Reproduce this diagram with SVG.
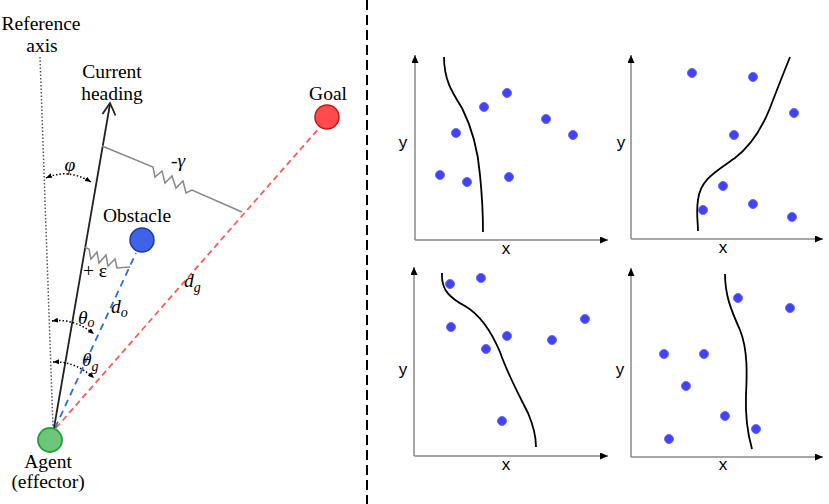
<svg xmlns="http://www.w3.org/2000/svg" width="829" height="504" viewBox="0 0 829 504">
<style>
.lbl{font-family:"Liberation Serif","Times New Roman",serif;font-size:19.5px;fill:#000}
.it{font-style:italic}
.ax{stroke:#888;stroke-width:1.5;fill:none}
.axl{font-family:"Liberation Sans",Arial,sans-serif;font-size:17px;fill:#000}
.curve{stroke:#000;stroke-width:1.8;fill:none}
.dot{fill:#4242fa;stroke:#6a6aff;stroke-width:1}
.dotted{stroke:#000;stroke-width:1.5;stroke-dasharray:1.5 2;fill:none}
.refax{stroke:#555;stroke-width:1.5;stroke-dasharray:1.5 2;fill:none}
.spring{stroke:#888;stroke-width:1.5;fill:none}
</style>
<defs>
<marker id="axArrow" viewBox="0 0 8 7" refX="8" refY="3.5" markerWidth="8" markerHeight="7" markerUnits="userSpaceOnUse" orient="auto">
<path d="M0,0 L8,3.5 L0,7 z" fill="#000"/>
</marker>
<marker id="dotArrow" viewBox="0 0 6 5" refX="6" refY="2.5" markerWidth="6" markerHeight="5" markerUnits="userSpaceOnUse" orient="auto-start-reverse">
<path d="M0,0 L6,2.5 L0,5 z" fill="#000"/>
</marker>
</defs>

<!-- Divider -->
<line x1="367" y1="0" x2="367" y2="504" stroke="#000" stroke-width="2" stroke-dasharray="10 5"/>

<!-- Left panel connectors -->
<g id="connectors">
<path class="refax" d="M40,57 L53,428"/>
<line x1="56" y1="428" x2="320" y2="127" stroke="#ff5a5a" stroke-width="1.8" stroke-dasharray="6 4"/>
<line x1="55" y1="428" x2="136" y2="253" stroke="#2a6fd6" stroke-width="1.8" stroke-dasharray="7 5"/>
<line x1="54" y1="428" x2="110" y2="104" stroke="#222" stroke-width="1.8"/>
<polyline points="102.5,114 110,103 115.5,115.5" fill="none" stroke="#222" stroke-width="1.8"/>
<path class="spring" d="M102,146 L153,167 L155,177 L162,171 L165,183 L172,176 L176,188 L183,181 L186,193 L192,190 L242,212"/>
<path class="spring" d="M84,247 L89,249 L91,259 L97,252 L99,263 L106,255 L108,266 L115,259 L117,268 L130,267"/>
<path class="dotted" d="M46,178 Q68,168 91,182" marker-start="url(#dotArrow)" marker-end="url(#dotArrow)"/>
<path class="dotted" d="M52,321 Q74,318 94,334" marker-start="url(#dotArrow)" marker-end="url(#dotArrow)"/>
<path class="dotted" d="M53,362 Q75,361 94,378" marker-start="url(#dotArrow)" marker-end="url(#dotArrow)"/>
</g>

<g id="reference-axis">
<text class="lbl" x="41" y="30" text-anchor="middle">Reference</text>
<text class="lbl" x="42" y="52" text-anchor="middle">axis</text>
</g>
<g id="current-heading">
<text class="lbl" x="112" y="78" text-anchor="middle">Current</text>
<text class="lbl" x="112" y="100" text-anchor="middle">heading</text>
</g>
<g id="goal">
<circle cx="327" cy="117" r="12" fill="#ff4b4b" stroke="#c01818" stroke-width="1.5"/>
<text class="lbl" x="328" y="100" text-anchor="middle">Goal</text>
</g>
<g id="obstacle">
<circle cx="142" cy="240" r="12" fill="#3f63e6" stroke="#1a3aa8" stroke-width="1.5"/>
<text class="lbl" x="137" y="222" text-anchor="middle">Obstacle</text>
</g>
<g id="agent">
<circle cx="50" cy="440" r="12" fill="#6cc77a" stroke="#23a03a" stroke-width="1.8"/>
<text class="lbl" x="48" y="468" text-anchor="middle">Agent</text>
<text class="lbl" x="48" y="488" text-anchor="middle">(effector)</text>
</g>
<g id="labels">
<text class="lbl it" x="70" y="171" text-anchor="middle">φ</text>
<text class="lbl it" x="171" y="167">-γ</text>
<text class="lbl" x="83" y="277">+ ε</text>
<text class="lbl it" x="111" y="313">d<tspan font-size="14" dy="4">o</tspan></text>
<text class="lbl it" x="184" y="287">d<tspan font-size="14" dy="5">g</tspan></text>
<text class="lbl it" x="78" y="324">θ<tspan font-size="14" dy="3">o</tspan></text>
<text class="lbl it" x="82" y="366">θ<tspan font-size="14" dy="5">g</tspan></text>
</g>

<!-- Right panels -->
<g id="plot1">
<path class="ax" d="M415,240 L415,55" marker-end="url(#axArrow)"/>
<path class="ax" d="M415,240 L608,240" marker-end="url(#axArrow)"/>
<text class="axl" x="403" y="148" text-anchor="middle">y</text>
<text class="axl" x="506" y="254" text-anchor="middle">x</text>
<path class="curve" d="M444,57 C444,80 452,92 462,108 C472,128 478,150 480,175 C482,195 483,215 483,232"/>
<circle class="dot" cx="507" cy="93" r="4.5"/>
<circle class="dot" cx="484" cy="107" r="4.5"/>
<circle class="dot" cx="546" cy="119" r="4.5"/>
<circle class="dot" cx="573" cy="135" r="4.5"/>
<circle class="dot" cx="456" cy="133" r="4.5"/>
<circle class="dot" cx="440" cy="175" r="4.5"/>
<circle class="dot" cx="467" cy="182" r="4.5"/>
<circle class="dot" cx="509" cy="177" r="4.5"/>
</g>
<g id="plot2">
<path class="ax" d="M631,239 L631,55" marker-end="url(#axArrow)"/>
<path class="ax" d="M631,239 L823,239" marker-end="url(#axArrow)"/>
<text class="axl" x="621" y="148" text-anchor="middle">y</text>
<text class="axl" x="723" y="253" text-anchor="middle">x</text>
<path class="curve" d="M790,57 C784,72 776,92 770,108 C762,128 752,145 735,158 C715,172 700,180 698,200 C696,212 698,222 698,231"/>
<circle class="dot" cx="692" cy="73" r="4.5"/>
<circle class="dot" cx="753" cy="77" r="4.5"/>
<circle class="dot" cx="794" cy="113" r="4.5"/>
<circle class="dot" cx="734" cy="135" r="4.5"/>
<circle class="dot" cx="723" cy="186" r="4.5"/>
<circle class="dot" cx="753" cy="204" r="4.5"/>
<circle class="dot" cx="703" cy="210" r="4.5"/>
<circle class="dot" cx="792" cy="217" r="4.5"/>
</g>
<g id="plot3">
<path class="ax" d="M414,456 L414,267" marker-end="url(#axArrow)"/>
<path class="ax" d="M414,456 L608,456" marker-end="url(#axArrow)"/>
<text class="axl" x="403" y="375" text-anchor="middle">y</text>
<text class="axl" x="506" y="470" text-anchor="middle">x</text>
<path class="curve" d="M442,273 C441,290 450,298 465,306 C482,316 492,333 500,352 C508,375 520,397 528,413 C534,427 536,437 536,447"/>
<circle class="dot" cx="450" cy="284" r="4.5"/>
<circle class="dot" cx="481" cy="278" r="4.5"/>
<circle class="dot" cx="451" cy="327" r="4.5"/>
<circle class="dot" cx="507" cy="336" r="4.5"/>
<circle class="dot" cx="486" cy="349" r="4.5"/>
<circle class="dot" cx="552" cy="340" r="4.5"/>
<circle class="dot" cx="585" cy="319" r="4.5"/>
<circle class="dot" cx="502" cy="421" r="4.5"/>
</g>
<g id="plot4">
<path class="ax" d="M631,457 L631,268" marker-end="url(#axArrow)"/>
<path class="ax" d="M631,457 L823,457" marker-end="url(#axArrow)"/>
<text class="axl" x="620" y="375" text-anchor="middle">y</text>
<text class="axl" x="723" y="470" text-anchor="middle">x</text>
<path class="curve" d="M725,274 C725,295 731,310 740,330 C748,350 747,375 746,395 C745,420 748,435 752,449"/>
<circle class="dot" cx="738" cy="298" r="4.5"/>
<circle class="dot" cx="790" cy="308" r="4.5"/>
<circle class="dot" cx="664" cy="354" r="4.5"/>
<circle class="dot" cx="704" cy="354" r="4.5"/>
<circle class="dot" cx="686" cy="386" r="4.5"/>
<circle class="dot" cx="725" cy="416" r="4.5"/>
<circle class="dot" cx="756" cy="429" r="4.5"/>
<circle class="dot" cx="669" cy="439" r="4.5"/>
</g>
</svg>
